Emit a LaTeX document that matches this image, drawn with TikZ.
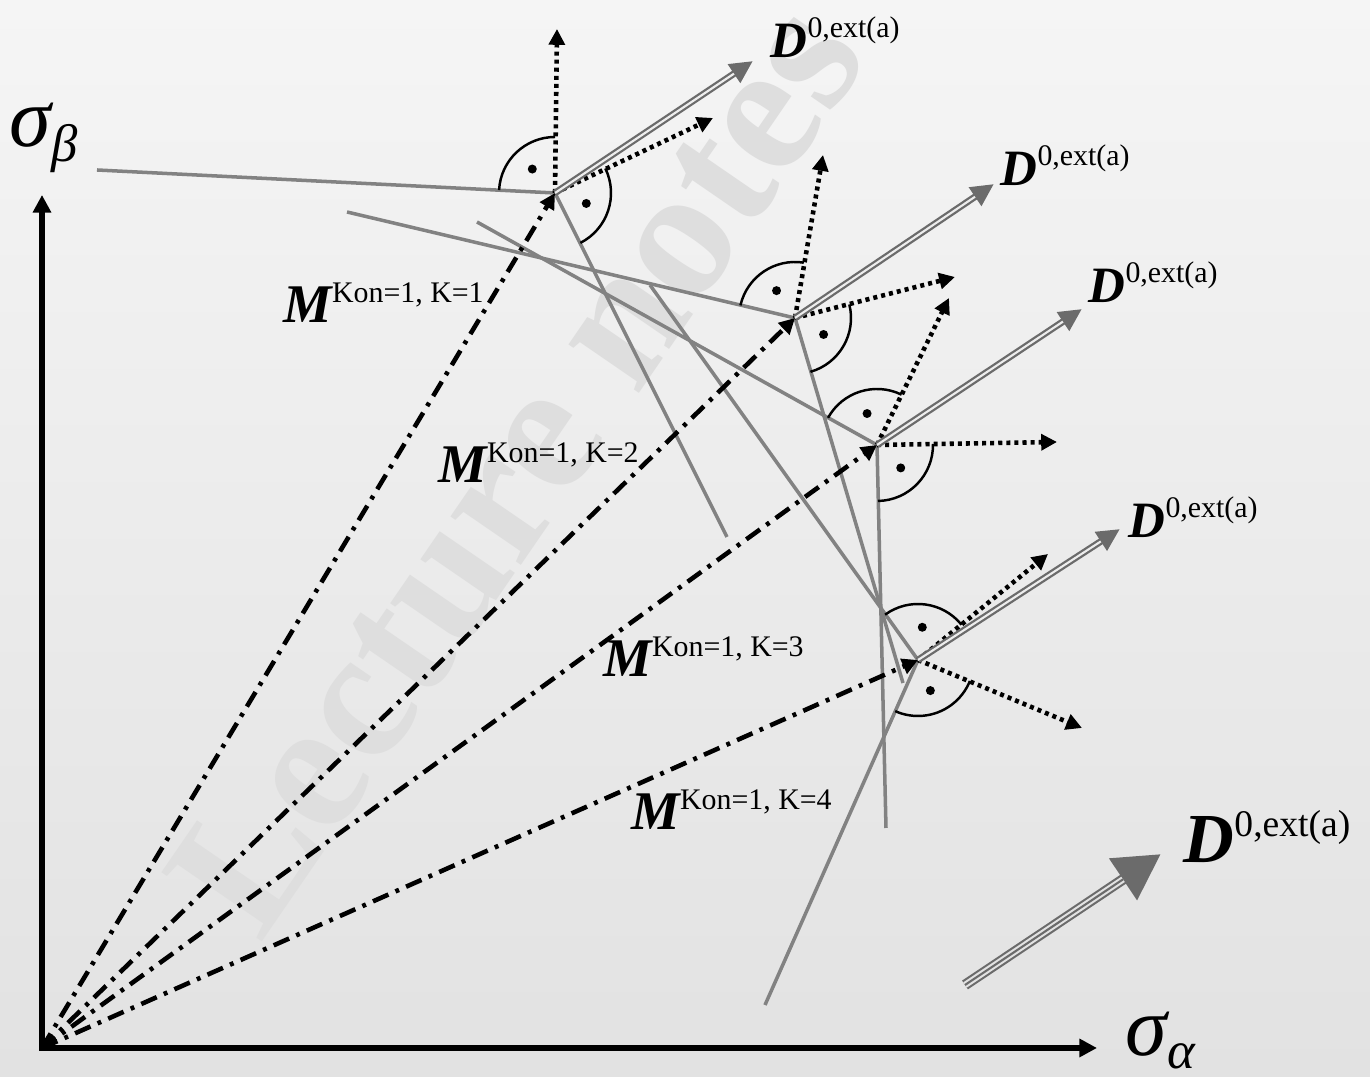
\documentclass[tikz,border=0pt]{standalone}
\usepackage{fontspec}
\setmainfont{Liberation Serif}
\usetikzlibrary{arrows.meta}
\definecolor{lgray}{HTML}{828282}
\definecolor{dgray}{HTML}{6B6B6B}
\definecolor{wmark}{HTML}{DEDEDE}
\definecolor{bgtop}{HTML}{F5F5F5}
\definecolor{bgbot}{HTML}{E2E2E2}
\newcommand{\supsize}{\fontsize{8.5}{9}\selectfont}
\newcommand{\Dext}{{\fontsize{14.5}{15}\selectfont\bfseries\itshape D}\raisebox{5.7pt}{\supsize 0,ext(a)}}
\newcommand{\Mkon}[1]{{\fontsize{15.5}{16}\selectfont\bfseries\itshape M}\raisebox{5.7pt}{\supsize Kon=1, K=#1}}

\begin{document}
\begin{tikzpicture}[line join=round, >={Triangle[length=4.5pt,width=4.5pt]},
	yield/.style={lgray, line width=1pt},
	load/.style={black, line width=1.3pt, dash pattern=on 4.8pt off 2.2pt on 1.1pt off 2.2pt, ->},
	normal/.style={black, line width=1.3pt, dash pattern=on 1.15pt off 1.15pt, ->},
	rangle/.style={black, line width=0.7pt},
	lbl/.style={inner sep=0pt, anchor=base west}]
	\shade[top color=bgtop, bottom color=bgbot] (0,0) rectangle (13.7,10.77);
	\useasboundingbox (0,0) rectangle (13.7,10.77);
	\node[wmark, lbl, rotate=55.5, font=\fontsize{53}{53}\selectfont\bfseries] (wm) at (2.60,1.32) {Lecture notes};
	% points
	\coordinate (O) at (0.42,0.29);
	\coordinate (Ya) at (0.42,8.82);
	\coordinate (Xa) at (10.97,0.29);
	\coordinate (P1) at (5.55,8.84);
	\coordinate (P2) at (7.95,7.59);
	\coordinate (P3) at (8.77,6.32);
	\coordinate (P4) at (9.18,4.17);
	\coordinate (ya1) at (0.97,9.07); \coordinate (ya2) at (7.27,5.40);
	\coordinate (yb1) at (3.47,8.65); \coordinate (yb2) at (9.03,3.94);
	\coordinate (yc1) at (4.77,8.55); \coordinate (yc2) at (8.86,2.49);
	\coordinate (yd1) at (6.50,7.92); \coordinate (yd2) at (7.65,0.72);
	\coordinate (n1a) at (5.57,10.48); \coordinate (n1b) at (7.13,9.59);
	\coordinate (n2a) at (8.23,9.22); \coordinate (n2b) at (9.55,8.00);
	\coordinate (n3a) at (9.49,7.79); \coordinate (n3b) at (10.57,6.35);
	\coordinate (n4a) at (10.48,5.23); \coordinate (n4b) at (10.82,3.49);
	\coordinate (e1) at (7.53,10.16); \coordinate (e2) at (9.94,8.93);
	\coordinate (e3) at (10.82,7.68); \coordinate (e4) at (11.20,5.48);
	\coordinate (f1) at (9.65,0.92); \coordinate (f2) at (11.61,2.23);
	% axes
	\draw[line width=1.6pt, line join=miter, {Triangle[length=5pt,width=5pt]}-{Triangle[length=5pt,width=5pt]}] (Ya)--(O)--(Xa);
	\node[lbl] (sb) at (0.09,9.30) {\fontsize{24}{24}\selectfont\itshape σ\raisebox{-4pt}{\fontsize{15}{15}\selectfont β}};
	\node[lbl] (sa) at (11.25,0.21) {\fontsize{24}{24}\selectfont\itshape σ\raisebox{-3.5pt}{\fontsize{15}{15}\selectfont α}};
	% yield surfaces
	\draw[yield] (ya1)--(P1)--(ya2);
	\draw[yield] (yb1)--(P2)--(yb2);
	\draw[yield] (yc1)--(P3)--(yc2);
	\draw[yield] (yd1)--(P4)--(yd2);
	% load paths
	\foreach \p in {P1,P2,P3,P4}
		\draw[load] (O)--(\p);
	% normals
	\foreach \p/\a/\b in {P1/n1a/n1b, P2/n2a/n2b, P3/n3a/n3b, P4/n4a/n4b}{
		\draw[normal] (\p)--(\a);
		\draw[normal] (\p)--(\b);
	}
	% D directions
	\foreach \p/\e in {P1/e1, P2/e2, P3/e3, P4/e4}{
		\draw[dgray, line width=1.9pt, -{Triangle[length=6.5pt,width=6pt]}] (\p)--(\e);
		\draw[bgtop!60!bgbot, line width=0.6pt, shorten >=6.5pt] (\p)--(\e);
	}
	\draw[dgray, line width=3pt, -{Triangle[length=13pt,width=13.5pt]}] (f1)--(f2);
	\draw[bgbot, line width=1.8pt, shorten >=13pt] (f1)--(f2);
	\draw[dgray, line width=0.6pt, shorten >=13pt] (f1)--(f2);
	% right angles
	\foreach \p/\s/\e in {P1/90/177, P1/-63/26, P2/81/167, P2/-74/14, P3/64/151, P3/-89/1, P4/39/126, P4/-114/-22}{
		\draw[rangle] (\p) ++(\s:0.56) arc[start angle=\s, end angle=\e, radius=0.56];
		\fill (\p) ++({(\s+\e)/2}:0.33) circle[radius=0.045];
	}
	% labels
	\node[lbl] (d1) at (7.70,10.19) {\Dext};
	\node[lbl] (d2) at (10.00,8.91) {\Dext};
	\node[lbl] (d3) at (10.88,7.74) {\Dext};
	\node[lbl] (d4) at (11.28,5.39) {\Dext};
	\node[lbl] (d5) at (11.83,2.14) {{\fontsize{20}{20}\selectfont\bfseries\itshape D}\raisebox{7.4pt}{\fontsize{10.7}{11}\selectfont 0,ext(a)}};
	\node[lbl] (m1) at (2.83,7.54) {\Mkon{1}};
	\node[lbl] (m2) at (4.38,5.94) {\Mkon{2}};
	\node[lbl] (m3) at (6.03,4.00) {\Mkon{3}};
	\node[lbl] (m4) at (6.31,2.47) {\Mkon{4}};
\end{tikzpicture}
\end{document}
